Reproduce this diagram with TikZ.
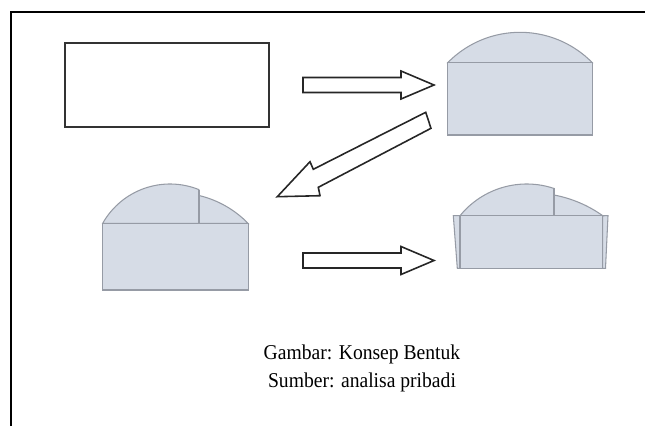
\documentclass[tikz,border=0pt]{standalone}
\usepackage{fontspec}
\setmainfont[FakeStretch=0.93]{Liberation Serif}
\usepackage{xcolor}
\definecolor{isi}{RGB}{214,220,230}
\definecolor{garis}{RGB}{150,155,165}
\tikzstyle{panah} = [draw=black!85, line width=0.9pt, fill=white, line join=miter]

\begin{document}
\begin{tikzpicture}
        [
            x=0.02cm, y=-0.02cm,
            bentuk/.style={fill=isi, draw=garis, line width=0.6pt},
            kotak/.style={draw=black!80, line width=1.1pt},
            teks/.style={anchor=base, font=\fontsize{12}{16}\selectfont},
        ]
    \useasboundingbox (0,0) rectangle (645,426);

    % bingkai
    \draw[line width=1.2pt] (11,426) -- (11,12) -- (645,12);

    % bentuk awal
    \draw[kotak] (65,43) rectangle (269,127);

    % kubah penuh
    \draw[bentuk] (447.7,62.7) arc[start angle=224.4, end angle=315.6, radius=101.2] -- cycle;
    \draw[bentuk] (447.7,62.7) rectangle (592.3,135);

    % kubah bertingkat
    \draw[bentuk] (102.7,223.3) arc[start angle=209.45, end angle=292, radius=77.3]
        -- (199,195.5) arc[start angle=283.4, end angle=315.9, radius=101.2] -- cycle;
    \draw[garis, line width=0.6pt] (199,189.6) -- (199,223.3);
    \draw[bentuk] (102.7,223.3) rectangle (248.3,290);

    % kubah bertingkat dengan sayap
    \draw[bentuk] (453.3,215.7) -- (460,215.7) -- (460,268.3) -- (457.3,268.3) -- cycle;
    \draw[bentuk] (608,215.7) -- (602.7,215.7) -- (602.7,268.3) -- (605.5,268.3) -- cycle;
    \draw[bentuk] (460,215.7) arc[start angle=219.15, end angle=288.5, radius=86]
        -- (554,195) arc[start angle=280.6, end angle=305.5, radius=123] -- cycle;
    \draw[garis, line width=0.6pt] (554,188.4) -- (554,215.7);
    \draw[bentuk] (460,215.7) rectangle (602.7,268.3);

    % panah
    \foreach \y in {85,260.5}{
        \draw[panah] (303,\y-7.5) -- (401,\y-7.5) -- (401,\y-14) -- (434,\y)
            -- (401,\y+14) -- (401,\y+7.5) -- (303,\y+7.5) -- cycle;
    }
    \draw[panah] (425.7,112.3) -- (313.3,169.3) -- (310,161.7) -- (277.3,196.7)
        -- (320,195.7) -- (318.3,187.3) -- (431,128.3) -- cycle;

    \node[teks] (judul) at (362,359) {Gambar: Konsep Bentuk};
    \node[teks] (sumber) at (362,387) {Sumber: analisa pribadi};
\end{tikzpicture}
\end{document}
